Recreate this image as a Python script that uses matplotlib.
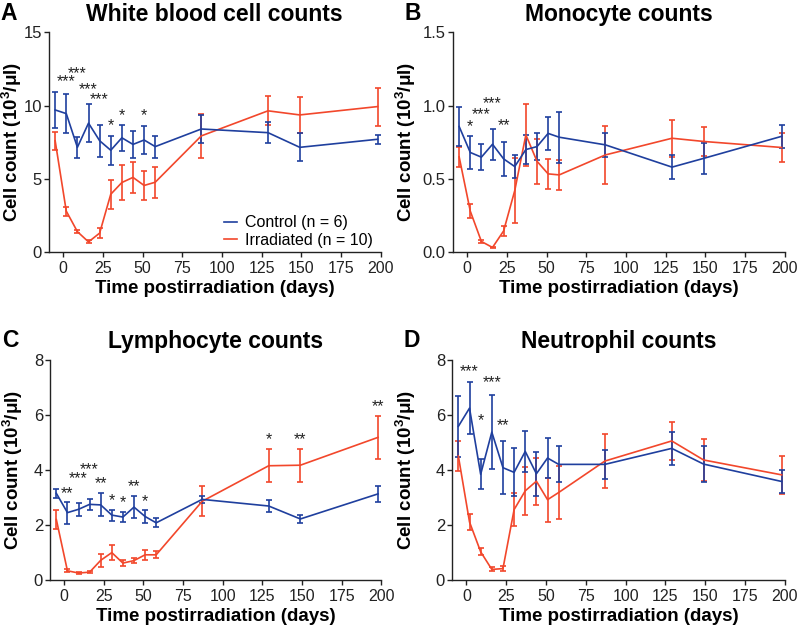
import numpy as np
import matplotlib
matplotlib.use("Agg")
import matplotlib.pyplot as plt
from matplotlib.lines import Line2D

plt.rcParams['font.family'] = ['Liberation Sans', 'DejaVu Sans']
plt.rcParams['mathtext.fontset'] = 'custom'
plt.rcParams['mathtext.rm'] = 'Liberation Sans:bold'
plt.rcParams['mathtext.it'] = 'Liberation Sans:bold'

AZUL = '#1f3f9e'
ROJO = '#f2472b'

# dias de muestreo
dias = [-5, 2, 9, 16, 23, 30, 37, 44, 51, 58, 87, 129, 149, 198]

# A - leucocitos totales
wbc_ctrl = [9.7, 9.45, 7.15, 8.8, 7.6, 6.95, 7.8, 7.35, 7.65, 7.2, 8.4, 8.15, 7.15, 7.7]
wbc_ctrl_err = [1.2, 1.35, 0.7, 1.3, 1.1, 1.0, 0.9, 0.9, 0.95, 0.75, 0.95, 0.7, 0.95, 0.3]
wbc_irr = [7.6, 2.8, 1.4, 0.7, 1.3, 3.95, 4.75, 5.1, 4.55, 4.77, 7.93, 9.64, 9.36, 9.93]
wbc_irr_err = [0.6, 0.3, 0.1, 0.1, 0.35, 1.0, 1.2, 1.05, 1.0, 1.05, 1.5, 1.0, 1.2, 1.3]
wbc_est_x = [2, 9, 16, 23, 30, 37, 51]
wbc_est_y = [11.6, 12.2, 11.1, 10.4, 8.6, 9.3, 9.3]
wbc_est = ['***', '***', '***', '***', '*', '*', '*']

# B - monocitos
mono_ctrl = [0.857, 0.68, 0.648, 0.736, 0.636, 0.584, 0.70, 0.72, 0.81, 0.784, 0.732, 0.58, 0.64, 0.79]
mono_ctrl_err = [0.135, 0.11, 0.09, 0.105, 0.115, 0.08, 0.1, 0.09, 0.11, 0.175, 0.08, 0.08, 0.105, 0.077]
mono_irr = [0.65, 0.28, 0.073, 0.032, 0.145, 0.42, 0.80, 0.62, 0.534, 0.527, 0.663, 0.777, 0.755, 0.714]
mono_irr_err = [0.07, 0.05, 0.01, 0.005, 0.035, 0.22, 0.21, 0.155, 0.1, 0.1, 0.2, 0.125, 0.1, 0.1]
mono_est_x = [2, 9, 16, 23]
mono_est_y = [0.855, 0.935, 1.015, 0.865]
mono_est = ['*', '***', '***', '**']

# C - linfocitos
linf_ctrl = [3.15, 2.45, 2.57, 2.75, 2.73, 2.36, 2.29, 2.65, 2.31, 2.08, 2.93, 2.69, 2.22, 3.13]
linf_ctrl_err = [0.16, 0.4, 0.23, 0.2, 0.42, 0.2, 0.17, 0.39, 0.22, 0.16, 0.12, 0.22, 0.14, 0.28]
linf_irr = [2.2, 0.34, 0.26, 0.29, 0.72, 1.0, 0.62, 0.71, 0.92, 0.92, 2.86, 4.15, 4.17, 5.18]
linf_irr_err = [0.33, 0.05, 0.03, 0.03, 0.24, 0.27, 0.12, 0.1, 0.18, 0.13, 0.54, 0.6, 0.6, 0.78]
linf_est_x = [2, 9, 16, 23, 30, 37, 44, 51, 129, 149, 198]
linf_est_y = [3.15, 3.7, 4.0, 3.5, 2.9, 2.8, 3.4, 2.85, 5.1, 5.1, 6.3]
linf_est = ['**', '***', '***', '**', '*', '*', '**', '*', '*', '**', '**']

# D - neutrofilos
neut_ctrl = [5.58, 6.24, 3.84, 5.37, 4.08, 3.91, 4.67, 3.86, 4.43, 4.2, 4.2, 4.78, 4.21, 3.58]
neut_ctrl_err = [1.1, 0.95, 0.55, 1.35, 0.95, 0.87, 0.74, 0.8, 0.74, 0.65, 0.53, 0.59, 0.66, 0.43]
neut_irr = [4.5, 2.11, 1.03, 0.39, 0.42, 2.56, 3.24, 3.59, 2.92, 3.18, 4.32, 5.05, 4.36, 3.82]
neut_irr_err = [0.55, 0.3, 0.12, 0.07, 0.08, 0.6, 0.88, 0.85, 0.8, 0.95, 0.97, 0.7, 0.75, 0.68]
neut_est_x = [2, 9, 16, 23]
neut_est_y = [7.55, 5.8, 7.15, 5.6]
neut_est = ['***', '*', '***', '**']

paneles = [
    ('A', 'White blood cell counts', wbc_ctrl, wbc_ctrl_err, wbc_irr, wbc_irr_err,
     wbc_est_x, wbc_est_y, wbc_est, [0, 5, 10, 15], ['0', '5', '10', '15']),
    ('B', 'Monocyte counts', mono_ctrl, mono_ctrl_err, mono_irr, mono_irr_err,
     mono_est_x, mono_est_y, mono_est, [0, 0.5, 1.0, 1.5], ['0.0', '0.5', '1.0', '1.5']),
    ('C', 'Lymphocyte counts', linf_ctrl, linf_ctrl_err, linf_irr, linf_irr_err,
     linf_est_x, linf_est_y, linf_est, [0, 2, 4, 6, 8], ['0', '2', '4', '6', '8']),
    ('D', 'Neutrophil counts', neut_ctrl, neut_ctrl_err, neut_irr, neut_irr_err,
     neut_est_x, neut_est_y, neut_est, [0, 2, 4, 6, 8], ['0', '2', '4', '6', '8']),
]

# posiciones de los ejes (fracciones de la figura) y del rotulo y
cajas = [
    [0.061, 0.601, 0.415, 0.348],
    [0.566, 0.601, 0.415, 0.348],
    [0.0625, 0.082, 0.414, 0.349],
    [0.565, 0.082, 0.416, 0.349],
]
pos_ylabel = [-0.074, -0.105, -0.076, -0.102]

fig = plt.figure(figsize=(8, 6.32), dpi=100)

for caja, yl, p in zip(cajas, pos_ylabel, paneles):
    letra, titulo, yc, ec, yi, ei, ex, ey, et, yt, ytl = p
    ax = fig.add_axes(caja)
    ax.errorbar(dias, yi, yerr=ei, color=ROJO, lw=1.2, elinewidth=1.2, capsize=2.2,
                capthick=1.2)
    ax.errorbar(dias, yc, yerr=ec, color=AZUL, lw=1.2, elinewidth=1.2, capsize=2.2,
                capthick=1.2)
    for x, y, s in zip(ex, ey, et):
        ax.text(x, y, s, ha='center', va='center', fontsize=11.5, color='#222222')
    ax.set_xlim(-9, 200)
    ax.set_ylim(yt[0], yt[-1])
    ax.set_xticks(range(0, 201, 25))
    ax.set_yticks(yt)
    ax.set_yticklabels(ytl)
    ax.spines['top'].set_visible(False)
    ax.spines['right'].set_visible(False)
    for s in ['left', 'bottom']:
        ax.spines[s].set_linewidth(1.0)
        ax.spines[s].set_color('#222222')
    ax.tick_params(direction='out', length=3.5, width=1.0, colors='#222222', pad=3)
    ax.tick_params(axis='x', labelsize=11.5)
    ax.tick_params(axis='y', labelsize=12, pad=1.5)
    ax.set_xlabel('Time postirradiation (days)', fontsize=13.5, fontweight='bold', labelpad=3)
    ax.set_ylabel('Cell count (10$^{3}$/$\\mu$l)', fontsize=13.5, fontweight='bold')
    ax.yaxis.set_label_coords(yl, 0.5)
    ax.set_title(titulo, fontsize=16.5, fontweight='bold', pad=8)
    ax.text(-0.145, 1.085, letra, transform=ax.transAxes, fontsize=16.5, fontweight='bold',
            va='center', ha='left')
    if letra == 'A':
        h = [Line2D([], [], color=AZUL, lw=1.2), Line2D([], [], color=ROJO, lw=1.2)]
        ax.legend(h, ['Control (n = 6)', 'Irradiated (n = 10)'], loc='lower right',
                  frameon=False, fontsize=11.5, handlelength=0.8, handletextpad=0.5,
                  labelspacing=0.15, bbox_to_anchor=(1.02, -0.045))

fig.savefig('out.png', dpi=100)
